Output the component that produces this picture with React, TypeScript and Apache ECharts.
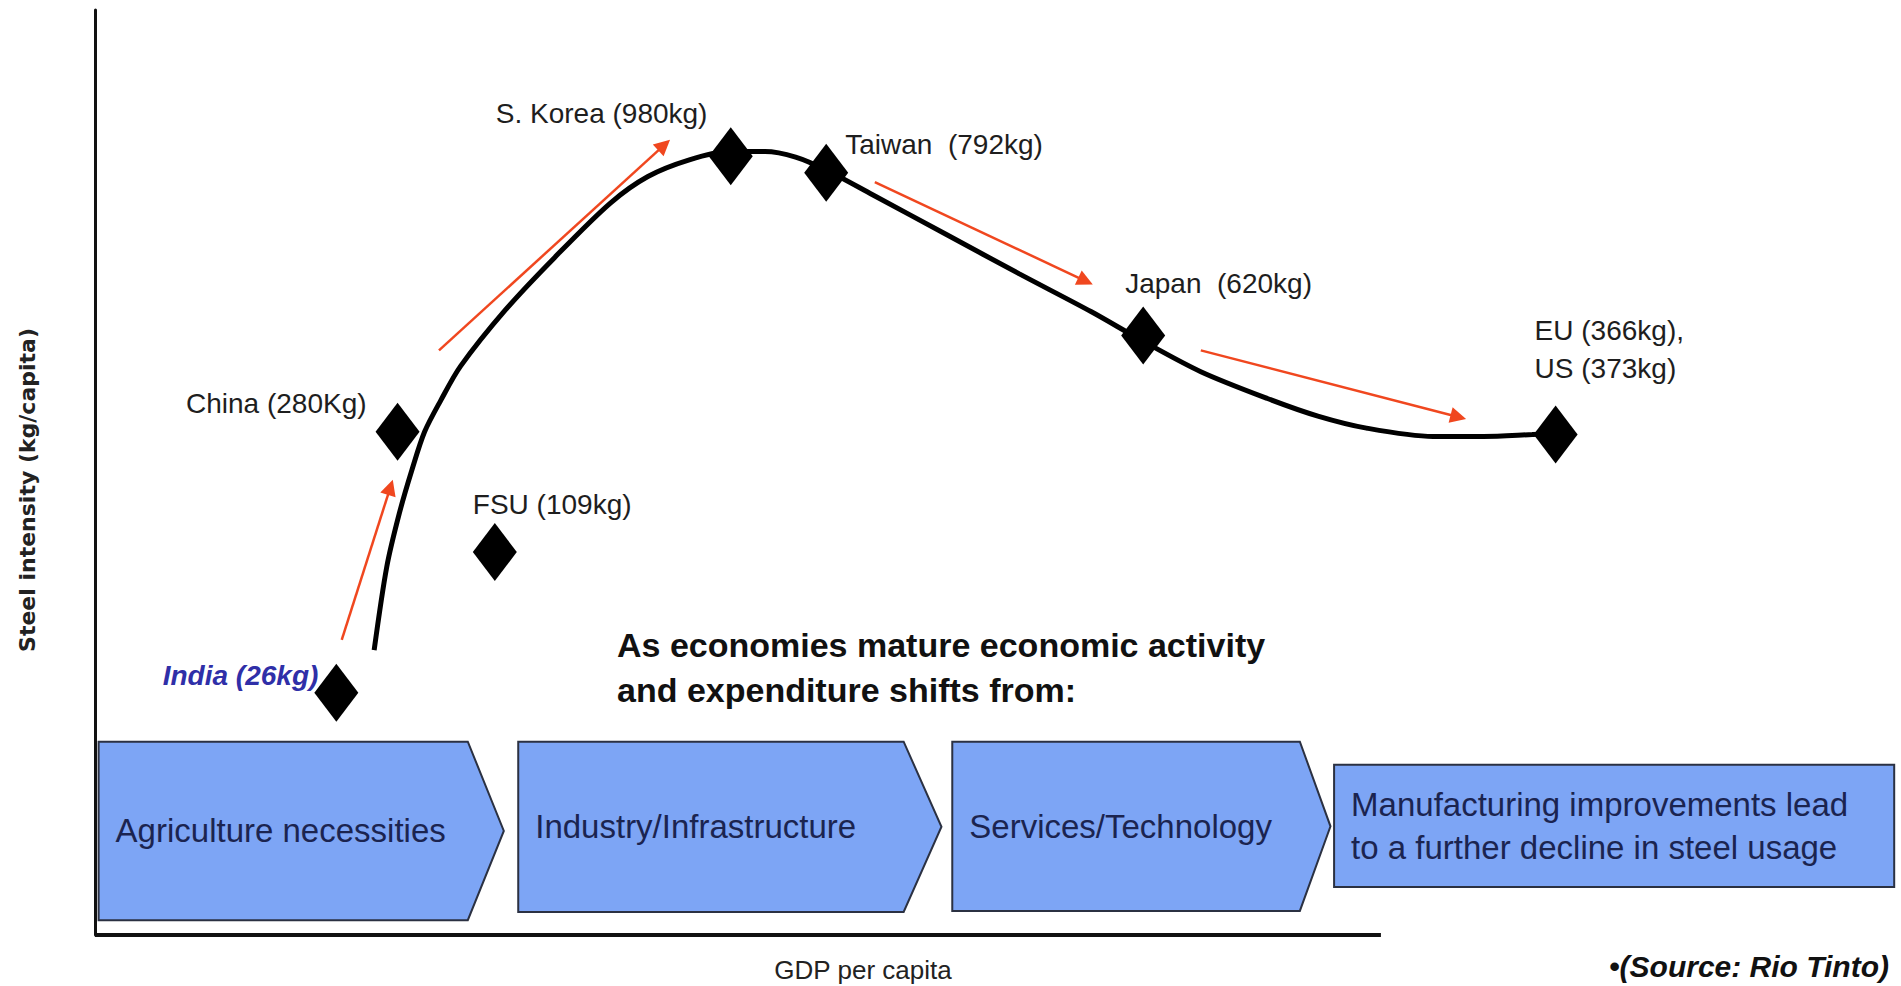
import React, { useEffect, useRef } from 'react';
import * as echarts from 'echarts';

// ---- data (schematic positions, axis units 0..100) ----
const countries = ['India', 'China', 'FSU', 'S. Korea', 'Taiwan', 'Japan', 'EU/US'];
const countryLabels = [
  'India (26kg)',
  'China (280Kg)',
  'FSU (109kg)',
  'S. Korea (980kg)',
  'Taiwan  (792kg)',
  'Japan  (620kg)',
  'EU (366kg),\nUS (373kg)',
];
const gdpPosition = [13.4, 16.8, 22.2, 35.3, 40.6, 58.2, 81.1];
const intensityPosition = [26.2, 54.4, 41.4, 84.2, 82.4, 64.8, 54.1];

const curveGdp = [15.5, 16.2, 16.9, 17.6, 18.3, 19.2, 20.3, 22.8, 25.5, 28.6, 30.7, 33.0, 35.2, 37.2, 38.9, 40.6, 43.2, 47.3, 51.3, 55.3, 58.1, 61.4, 65.1, 67.9, 70.6, 74.3, 77.1, 79.8, 81.0];
const curveIntensity = [30.8, 39.8, 45.6, 50.3, 54.4, 57.8, 61.5, 67.6, 73.2, 79.1, 82.0, 83.8, 84.7, 84.7, 84.1, 82.7, 80.0, 75.7, 71.5, 67.4, 64.3, 60.9, 58.0, 56.1, 54.8, 53.9, 53.9, 54.1, 54.2];

const trendFromGdp = [13.7, 19.1, 43.3, 61.4];
const trendFromIntensity = [31.9, 63.2, 81.4, 63.2];
const trendToGdp = [16.4, 31.6, 55.0, 75.7];
const trendToIntensity = [48.4, 85.4, 70.7, 56.0];

const stageNames = [
  'Agriculture necessities',
  'Industry/Infrastructure',
  'Services/Technology',
  'Manufacturing improvements lead\nto a further decline in steel usage',
];
const stageStart = [0.2, 23.5, 47.6, 68.8];
const stageEnd = [20.7, 44.9, 66.9, 99.9];
const stageTip = [22.7, 47.0, 68.6, 99.9];
const stageTop = [20.9, 20.9, 20.9, 18.4];
const stageBottom = [1.6, 2.5, 2.6, 5.2];

const xAxisEnd = 71.4;

// ---- label placement (styles / offsets, kept apart from the data) ----
const labelLayout: any[] = [
  { align: 'right', offset: [-18, -17], fontWeight: 'bold', fontStyle: 'italic', color: '#2f2fa8' },
  { align: 'right', offset: [-31, -28] },
  { align: 'left', offset: [-22, -48] },
  { align: 'left', offset: [-235, -43] },
  { align: 'left', offset: [19, -28] },
  { align: 'left', offset: [-18, -52] },
  { align: 'left', offset: [-21, -85] },
];

const FONT = "'Liberation Sans', Arial, Helvetica, sans-serif";

export default function App() {
  const ref = useRef<HTMLDivElement>(null);

  useEffect(() => {
    if (!ref.current) return;
    const chart = echarts.init(ref.current, undefined, { renderer: 'svg' });

    const stageData = stageNames.map((_, i) => [stageStart[i], stageEnd[i], stageTip[i], stageTop[i], stageBottom[i], i]);

    const option: any = {
      animation: false,
      backgroundColor: '#ffffff',
      grid: { left: 95, right: 5, top: 10, bottom: 51, containLabel: false },
      xAxis: {
        type: 'value',
        min: 0,
        max: 100,
        axisLine: { show: false },
        axisTick: { show: false },
        axisLabel: { show: false },
        splitLine: { show: false },
      },
      yAxis: {
        type: 'value',
        min: 0,
        max: 100,
        axisLine: { show: true, lineStyle: { color: '#111111', width: 3 } },
        axisTick: { show: false },
        axisLabel: { show: false },
        splitLine: { show: false },
      },
      series: [
        {
          type: 'custom',
          name: 'stages',
          clip: false,
          z: 1,
          encode: { x: [0, 1, 2], y: [3, 4] },
          data: stageData,
          renderItem: (params: any, api: any) => {
            const x0 = api.value(0);
            const x1 = api.value(1);
            const xt = api.value(2);
            const yt = api.value(3);
            const yb = api.value(4);
            const idx = api.value(5);
            const pTL = api.coord([x0, yt]);
            const pTR = api.coord([x1, yt]);
            const pTip = api.coord([xt, (yt + yb) / 2]);
            const pBR = api.coord([x1, yb]);
            const pBL = api.coord([x0, yb]);
            return {
              type: 'group',
              children: [
                {
                  type: 'polygon',
                  shape: { points: [pTL, pTR, pTip, pBR, pBL] },
                  style: { fill: '#7da5f5', stroke: '#2b3142', lineWidth: 2 },
                },
                {
                  type: 'text',
                  x: pTL[0] + 17,
                  y: (pTL[1] + pBL[1]) / 2,
                  style: {
                    text: stageNames[idx],
                    fill: '#1b2450',
                    fontSize: 33,
                    fontFamily: FONT,
                    align: 'left',
                    verticalAlign: 'middle',
                    lineHeight: 43,
                  },
                },
              ],
            };
          },
        },
        {
          type: 'line',
          name: 'x-axis',
          clip: false,
          z: 2,
          showSymbol: false,
          symbol: 'none',
          lineStyle: { color: '#111111', width: 4 },
          data: [
            [0, 0],
            [xAxisEnd, 0],
          ],
        },
        {
          type: 'line',
          name: 'Steel intensity curve',
          smooth: 0.3,
          clip: false,
          z: 3,
          showSymbol: false,
          symbol: 'none',
          lineStyle: { color: '#000000', width: 5 },
          data: curveGdp.map((x, i) => [x, curveIntensity[i]]),
        },
        {
          type: 'lines',
          name: 'trend',
          coordinateSystem: 'cartesian2d',
          z: 4,
          symbol: ['none', 'triangle'],
          symbolSize: [12, 16],
          lineStyle: { color: '#f0471f', width: 2.5, opacity: 1 },
          itemStyle: { color: '#f0471f' },
          data: trendFromGdp.map((x, i) => ({
            coords: [
              [x, trendFromIntensity[i]],
              [trendToGdp[i], trendToIntensity[i]],
            ],
          })),
        },
        {
          type: 'scatter',
          name: 'countries',
          symbol: 'diamond',
          symbolSize: [44, 58],
          z: 5,
          itemStyle: { color: '#000000', opacity: 1 },
          label: {
            show: true,
            position: 'inside',
            fontSize: 28,
            fontFamily: FONT,
            color: '#1e1e1e',
            verticalAlign: 'middle',
            lineHeight: 38,
            formatter: (p: any) => countryLabels[p.dataIndex],
          },
          data: countries.map((c, i) => ({
            name: c,
            value: [gdpPosition[i], intensityPosition[i]],
            label: { ...labelLayout[i] },
          })),
        },
      ],
      graphic: [
        {
          type: 'text',
          x: 27,
          y: 490,
          rotation: Math.PI / 2,
          style: {
            text: 'Steel intensity (kg/capita)',
            fill: '#222222',
            fontSize: 22,
            fontWeight: 'bold',
            fontFamily: "'DejaVu Sans', Verdana, sans-serif",
            align: 'center',
            verticalAlign: 'middle',
          },
        },
        {
          type: 'text',
          x: 863,
          y: 970,
          style: {
            text: 'GDP per capita',
            fill: '#222222',
            fontSize: 26,
            fontFamily: FONT,
            align: 'center',
            verticalAlign: 'middle',
          },
        },
        {
          type: 'text',
          x: 617,
          y: 667,
          style: {
            text: 'As economies mature economic activity\nand expenditure shifts from:',
            fill: '#111111',
            fontSize: 34,
            fontWeight: 'bold',
            fontFamily: FONT,
            lineHeight: 45,
            align: 'left',
            verticalAlign: 'middle',
          },
        },
        {
          type: 'text',
          x: 1889,
          y: 966,
          style: {
            text: '•(Source: Rio Tinto)',
            fill: '#111111',
            fontSize: 30,
            fontWeight: 'bold',
            fontStyle: 'italic',
            fontFamily: FONT,
            align: 'right',
            verticalAlign: 'middle',
          },
        },
      ],
    };

    chart.setOption(option);
    return () => {
      chart.dispose();
    };
  }, []);

  return (
    <div
      ref={ref}
      style={{ position: 'fixed', left: 0, top: 0, width: 1901, height: 986, background: '#fff' }}
    />
  );
}
